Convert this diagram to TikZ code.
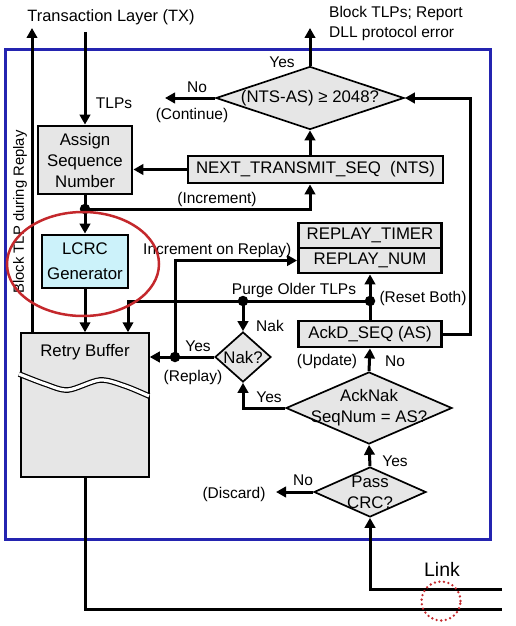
\documentclass[tikz,border=0pt]{standalone}
\usepackage{fontspec}
\setmainfont{Liberation Sans}
\usetikzlibrary{arrows.meta,shapes.geometric,calc}
\definecolor{boxgray}{HTML}{E6E6E6}
\definecolor{lcrcblue}{HTML}{CCF2FA}
\definecolor{frameblue}{HTML}{2424B0}
\definecolor{ellred}{HTML}{C4282C}
\newcommand\boxfont{\fontsize{16.8}{21}\selectfont}
\newcommand\lblfont{\fontsize{15.5}{18}\selectfont}
\begin{document}
\begin{tikzpicture}[x=1pt,y=-1pt,
  box/.style={draw, line width=2.8pt, fill=boxgray, inner sep=0pt, align=center, font=\boxfont},
  dia/.style={diamond, draw, line width=1.7pt, fill=boxgray, inner sep=0pt},
  diatext/.style={inner sep=0pt, align=center, font=\boxfont},
  conn/.style={line width=3pt, -{Triangle[length=10pt,width=10.5pt]}},
  plain/.style={line width=3pt},
  lbl/.style={inner sep=0pt, font=\lblfont},
  jdot/.style={circle, fill=black, inner sep=0pt, minimum size=10.5pt}]
\useasboundingbox (0,0) rectangle (516,626);
\fill[white] (0,0) rectangle (516,626);
% frame
\draw[frameblue, line width=3pt] (5,50) rectangle (490,539);

% nodes
\node[box, minimum width=94pt, minimum height=68pt] (assign) at (85,160) {Assign\\Sequence\\Number};
\node[box, minimum width=255pt, minimum height=27pt] (nts) at (315.5,169.5) {NEXT\_TRANSMIT\_SEQ\ \ (NTS)};
\node[dia, minimum width=188pt, minimum height=63pt] (d1) at (310,98) {};
\node[diatext] (d1t) at (d1.center) {(NTS-AS) ≥ 2048?};
\node[box, fill=lcrcblue, minimum width=86pt, minimum height=53pt] (lcrc) at (85,261.5) {LCRC\\[4pt]Generator};
\node[draw, line width=1.5pt, fill=boxgray, minimum width=128pt, minimum height=144pt, inner sep=0pt] (rb) at (85,405) {};
\node[diatext] (rbt) at (85,352) {Retry Buffer};
\draw[line width=1.2pt, double=white, double distance=3.2pt]
  plot[smooth] coordinates {(19,374) (45,384) (68,390) (100,380) (125,386) (149,396)};
\node[box, minimum width=143pt, minimum height=25pt] (rtimer) at (370,235.5) {REPLAY\_TIMER};
\node[box, minimum width=143pt, minimum height=25pt] (rnum) at (370,260.5) {REPLAY\_NUM};
\node[box, minimum width=143pt, minimum height=26pt] (ackd) at (370,334) {AckD\_SEQ (AS)};
\node[dia, minimum width=56pt, minimum height=50pt] (nak) at (243,357) {};
\node[diatext] (nakt) at (nak.center) {Nak?};
\node[dia, minimum width=166pt, minimum height=72pt] (acknak) at (369,408) {};
\node[diatext] (acknakt) at (acknak.center) {AckNak\\SeqNum = AS?};
\node[dia, minimum width=112pt, minimum height=50pt] (pass) at (370,492) {};
\node[diatext] (passt) at (pass.center) {Pass\\CRC?};

% junctions and free ends
\node[jdot] (j1) at (85,209) {};
\node[jdot] (j2) at (370,301) {};
\node[jdot] (j3) at (243,301) {};
\node[jdot] (j4) at (175,357) {};
\coordinate (tx) at (85,32);
\coordinate (blk) at (310,28);
\coordinate (cont) at (165,98);
\coordinate (blktop) at (32,28);
\coordinate (pc) at (128,301);
\coordinate (disc) at (276,492);
\coordinate (linka) at (502,589);
\coordinate (linkb) at (502,609);

% connectors
\draw[conn] (tx) -- (assign.north);
\draw[conn] (nts.west) -- (nts.west -| assign.east);
\draw[conn] (assign.south) -- (lcrc.north);
\draw[conn] (j1.center) -| (nts.south -| d1.south);
\draw[conn] (nts.north -| d1.south) -- (d1.south);
\draw[conn] (d1.north) -- (blk);
\draw[conn] (d1.west) -- (cont);
\draw[conn] (ackd.east) -- ++(28,0) |- (d1.east);
\draw[conn] (lcrc.south) -- (rb.north);
\draw[conn] (blktop |- rb.north) -- (blktop);
\draw[plain] (rb.south) |- (linkb);
\draw[conn] (linka) -| (pass.south);
\draw[conn] (pass.north) -- (acknak.south);
\draw[conn] (pass.west) -- (disc);
\draw[conn] (acknak.north) -- (ackd.south);
\draw[conn] (acknak.west) -| (nak.south);
\draw[conn] (ackd.north) -- (rnum.south);
\draw[conn] (j2.center) -- (pc) -- (pc |- rb.north);
\draw[conn] (j3.center) -- (nak.north);
\draw[conn] (nak.west) -- (nak.west -| rb.east);
\draw[conn] (j4.center) |- (rnum.west);

% labels
\node[lbl, font=\fontsize{16.4}{18}\selectfont] (ltx) at (111,17) {Transaction Layer (TX)};
\node[lbl] (ltlps) at (114,103) {TLPs};
\node[lbl] (lno1) at (197,87) {No};
\node[lbl] (lcont) at (192,115) {(Continue)};
\node[lbl] (lyes1) at (282,62) {Yes};
\node[lbl, anchor=west] (lblk1) at (329,13) {Block TLPs; Report};
\node[lbl, anchor=west] (lblk2) at (329,33) {DLL protocol error};
\node[lbl] (linc) at (217,199) {(Increment)};
\node[lbl, anchor=west] (lincr) at (143,250) {Increment on Replay)};
\node[lbl] (lpurge) at (294,290) {Purge Older TLPs};
\node[lbl] (lnak) at (270,326) {Nak};
\node[lbl] (lyes2) at (198,346) {Yes};
\node[lbl] (lrep) at (193,377) {(Replay)};
\node[lbl] (lreset) at (423,298) {(Reset Both)};
\node[lbl] (lupd) at (327,361) {(Update)};
\node[lbl] (lno2) at (395,361) {No};
\node[lbl] (lyes3) at (269,397) {Yes};
\node[lbl] (lyes4) at (395,461) {Yes};
\node[lbl] (lno3) at (303,480) {No};
\node[lbl] (ldisc) at (234,494) {(Discard)};
\node[lbl, font=\fontsize{19.5}{22}\selectfont] (llink) at (442,569) {Link};
\node[lbl, rotate=90, font=\fontsize{14.8}{17}\selectfont] (lblock) at (20,212) {Block TLP during Replay};

% annotations
\draw[ellred, line width=2.5pt] (83,264) ellipse[x radius=76pt, y radius=52pt];
\draw[ellred, line width=2.6pt, dash pattern=on 0pt off 4.6pt, line cap=round] (441,601) circle (19.5pt);
\end{tikzpicture}
\end{document}
